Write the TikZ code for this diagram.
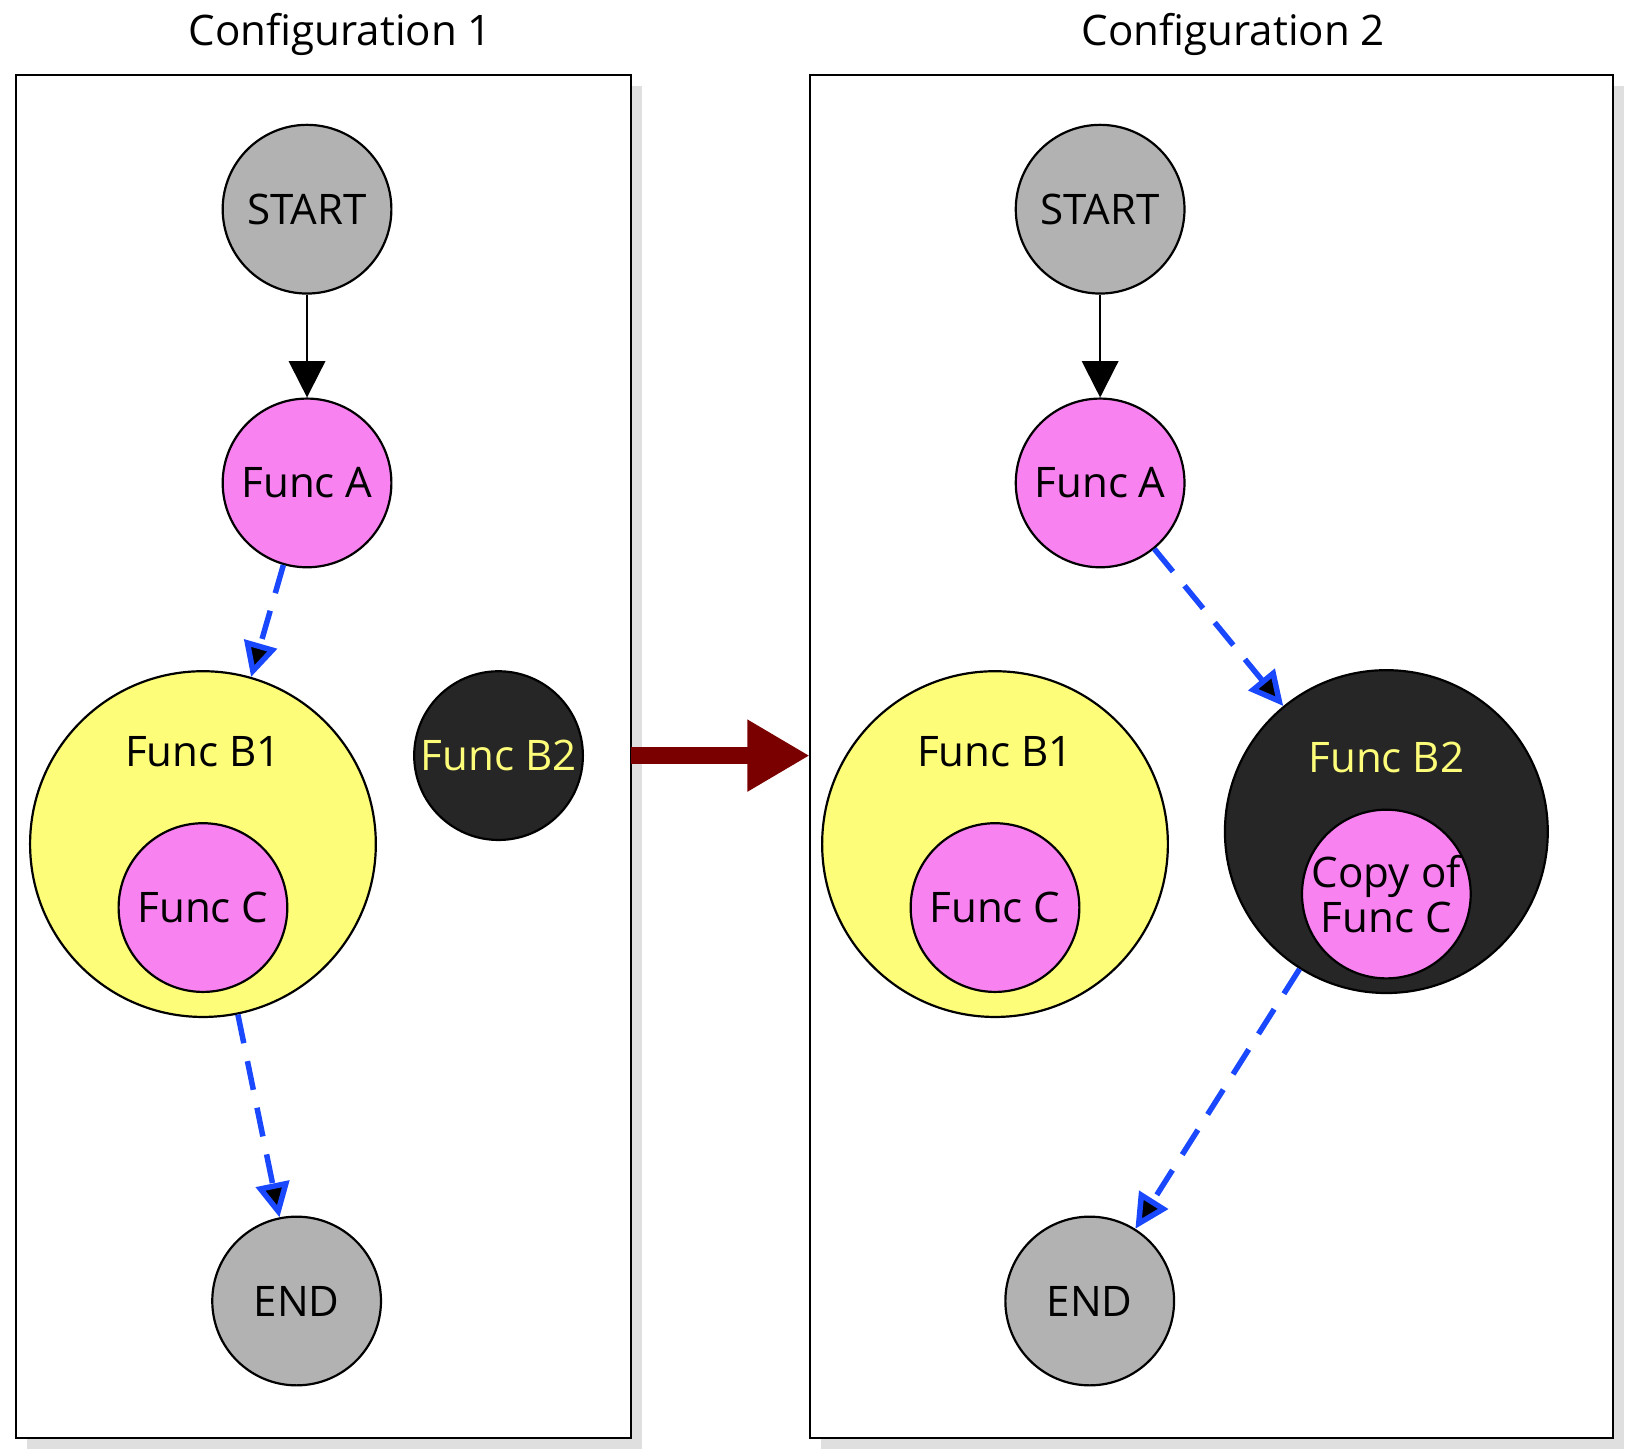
\documentclass[tikz,border=0pt]{standalone}
\usepackage{fontspec}
\setmainfont{Open Sans}
\usetikzlibrary{positioning,arrows.meta,shadows}
\definecolor{funcpink}{HTML}{F882F0}
\definecolor{funcyellow}{HTML}{FDFD7A}
\definecolor{funcdark}{HTML}{262626}
\definecolor{flowblue}{HTML}{1A48FF}
\definecolor{bigred}{HTML}{7A0000}
\tikzset{
  fn/.style={circle, draw=black, line width=0.6pt, inner sep=0pt, align=center, font=\fontsize{11.5}{12.5}\selectfont},
  term/.style={fn, fill=gray!60, minimum size=1.62cm},
  small/.style={fn, fill=funcpink, minimum size=1.62cm},
  panel/.style={draw=black, line width=0.6pt, fill=white, drop shadow={opacity=0.25, shadow xshift=3pt, shadow yshift=-3pt}},
  call/.style={-{Triangle[length=0.33cm,width=0.32cm]}, draw=flowblue, line width=1.5pt, dash pattern=on 8pt off 5pt},
  seq/.style={-{Triangle[length=0.35cm,width=0.35cm]}, line width=0.6pt}
}
\begin{document}
\begin{tikzpicture}[x=0.01cm, y=-0.01cm]
\useasboundingbox (0,0) rectangle (1568,1395);
\node[font=\fontsize{11.5}{12.5}\selectfont] (title1) at (327,33) {Configuration 1};
\node[font=\fontsize{11.5}{12.5}\selectfont] (title2) at (1185,33) {Configuration 2};
\path[panel] (15,72) rectangle (606,1382);
\path[panel] (778,72) rectangle (1550,1382);
\coordinate (box1) at (606,726);
\coordinate (box2) at (778,726);
% configuration 1
\node[term]  (start1) at (295,201) {START};
\node[small] (funcA1) at (295,464) {Func A};
\node[fn, fill=funcyellow, minimum size=3.32cm] (funcB1) at (195,811) {};
\node at (195,722) {\fontsize{11.5}{12.5}\selectfont Func B1};
\node[small] (funcC1) at (195,872) {Func C};
\node[fn, fill=funcdark, text=funcyellow, minimum size=1.62cm] (funcB2) at (479,726) {Func B2};
\node[term]  (end1) at (285,1250) {END};
% configuration 2
\node[term]  (start2) at (1057,201) {START};
\node[small] (funcA2) at (1057,464) {Func A};
\node[fn, fill=funcyellow, minimum size=3.32cm] (funcB1b) at (956,811) {};
\node at (956,722) {\fontsize{11.5}{12.5}\selectfont Func B1};
\node[small] (funcC2) at (956,872) {Func C};
\node[fn, fill=funcdark, minimum size=3.1cm] (funcB2b) at (1332,799) {};
\node[text=funcyellow] at (1332,728) {\fontsize{11.5}{12.5}\selectfont Func B2};
\node[small] (copyC) at (1332,859) {Copy of\\Func C};
\node[term]  (end2) at (1047,1250) {END};
% edges
\path[seq] (start1) edge (funcA1)
           (start2) edge (funcA2);
\path[call] (funcA1) edge (funcB1)
            (funcB1) edge (end1)
            (funcA2) edge (funcB2b)
            (funcB2b) edge (end2);
\draw[-{Triangle[length=0.6cm,width=0.65cm]}, draw=bigred, line width=4.5pt] (box1) -- (box2);
\end{tikzpicture}
\end{document}
